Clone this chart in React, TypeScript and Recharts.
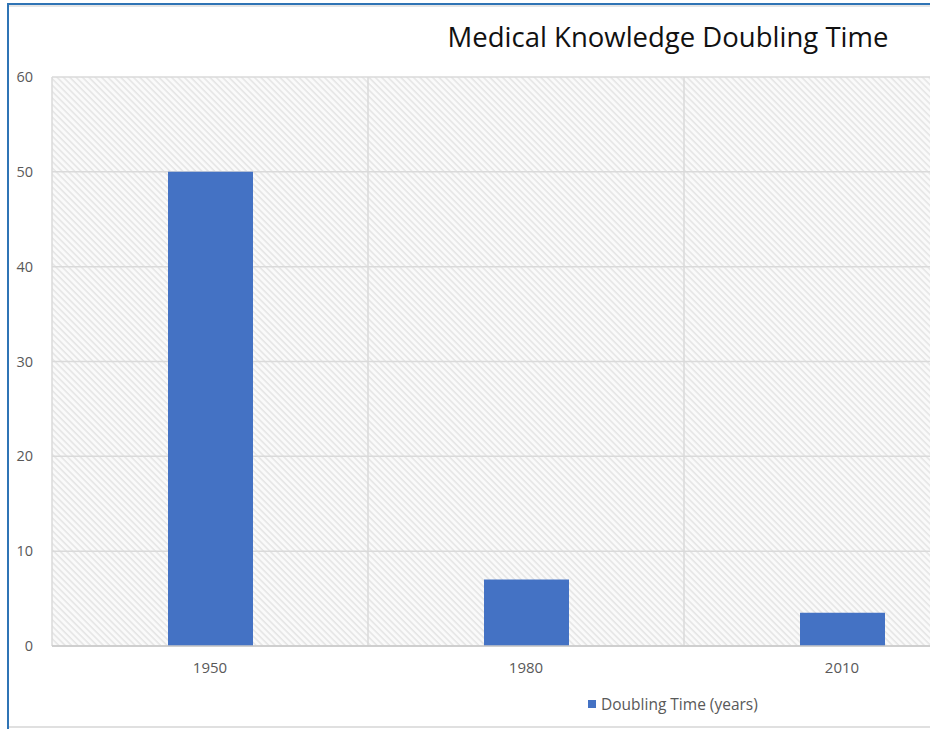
import React from "react";
import { BarChart, Bar, XAxis, YAxis, CartesianGrid } from "recharts";

const categories = ["1950", "1980", "2010"];
const doublingTime = [50, 7, 3.5];
const yTicks = [0, 10, 20, 30, 40, 50, 60];
const seriesName = "Doubling Time (years)";
const title = "Medical Knowledge Doubling Time";
const barColor = "#4472C4";

const data = categories.map((c, i) => ({ year: c, value: doublingTime[i] }));

const FONT = "'Open Sans', 'Noto Sans', sans-serif";

export default function App() {
  return (
    <div
      style={{
        position: "fixed",
        left: 0,
        top: 0,
        width: 930,
        height: 731,
        overflow: "hidden",
        background: "#ffffff",
        fontFamily: FONT,
      }}
    >
      <div style={{ position: "absolute", left: 7, top: 3, width: 923, height: 2, background: "#2f74b5" }} />
      <div style={{ position: "absolute", left: 8, top: 5, width: 922, height: 2, background: "#e6e6e6" }} />
      <div style={{ position: "absolute", left: 7, top: 3, width: 2, height: 726, background: "#2f74b5" }} />
      <div style={{ position: "absolute", left: 9, top: 726, width: 921, height: 2, background: "#e0e0e0" }} />
      <div
        style={{
          position: "absolute",
          left: 420,
          top: 18,
          width: 500,
          textAlign: "center",
          marginLeft: -1,
          fontSize: 27.5,
          lineHeight: "38px",
          color: "#111111",
          whiteSpace: "nowrap",
        }}
      >
        <span style={{ position: "relative", left: -1 }}>{title}</span>
      </div>
      <BarChart
        width={1016}
        height={700}
        data={data}
        margin={{ top: 77, right: 16, bottom: 24, left: 0 }}
        style={{ position: "absolute", left: 0, top: 0 }}
      >
        <defs>
          <pattern id="hatch" patternUnits="userSpaceOnUse" width="4.5" height="4.5" patternTransform="rotate(45)">
            <rect x="0" y="0" width="4.5" height="4.5" fill="#fafafa" />
            <line x1="0" y1="0.8" x2="4.5" y2="0.8" stroke="#e4e4e4" strokeWidth="1.5" />
          </pattern>
        </defs>
        <CartesianGrid
          fill="url(#hatch)"
          fillOpacity={1}
          stroke="#dadada"
          strokeWidth={1.5}
          verticalCoordinatesGenerator={({ offset }: any) =>
            categories.map((_, i) => offset.left + (i * offset.width) / categories.length)
          }
        />
        <XAxis
          dataKey="year"
          height={30}
          tickLine={false}
          axisLine={{ stroke: "#c8c8c8", strokeWidth: 1.5 }}
          tickSize={0}
          tickMargin={16}
          tick={{ fill: "#595959", fontSize: 15, fontFamily: FONT }}
        />
        <YAxis
          width={52}
          domain={[0, 60]}
          ticks={yTicks}
          interval={0}
          tickLine={false}
          axisLine={false}
          tickSize={0}
          tickMargin={19}
          tick={{ fill: "#595959", fontSize: 14.5, fontFamily: FONT }}
        />
        <Bar dataKey="value" name={seriesName} fill={barColor} barSize={85} isAnimationActive={false} />
      </BarChart>
      <div
        style={{
          position: "absolute",
          left: 588,
          top: 693,
          display: "flex",
          alignItems: "center",
          fontSize: 15.5,
          color: "#595959",
          whiteSpace: "nowrap",
        }}
      >
        <span style={{ display: "inline-block", width: 8, height: 8, background: barColor, marginRight: 5 }} />
        {seriesName}
      </div>
    </div>
  );
}
